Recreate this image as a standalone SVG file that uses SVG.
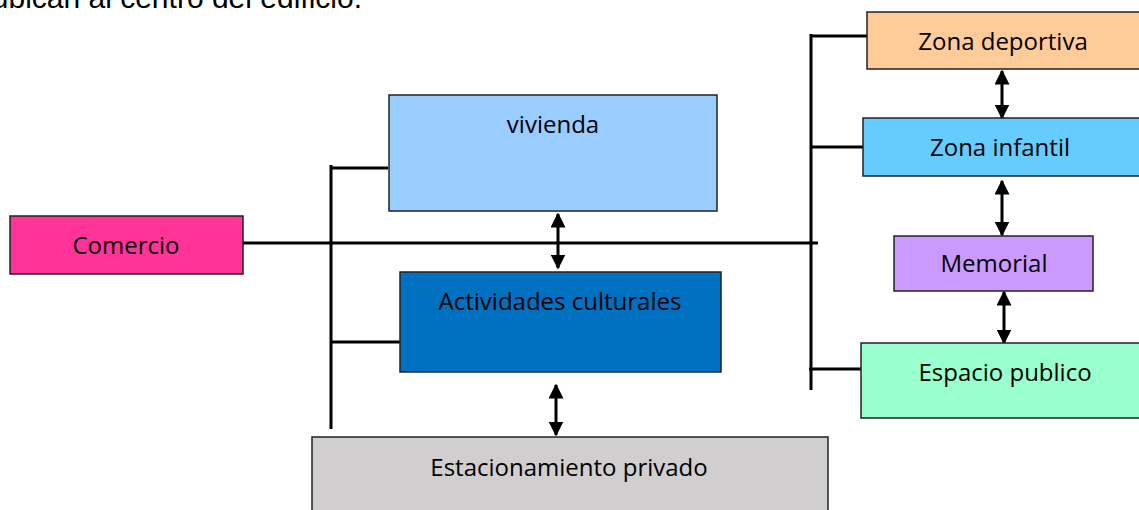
<svg xmlns="http://www.w3.org/2000/svg" width="1139" height="510" viewBox="0 0 1139 510">
<style>
.box{stroke:#222;stroke-width:1.5}
.lbl{font-family:"Open Sans","Noto Sans",sans-serif;font-size:24px;fill:#000;text-anchor:middle}
.ln{stroke:#000;stroke-width:3;fill:none}
</style>
<defs>
<marker id="ah" viewBox="0 0 10 10" refX="9" refY="5" markerWidth="5" markerHeight="5" orient="auto-start-reverse" markerUnits="strokeWidth">
<path d="M0,0 L10,5 L0,10 z" fill="#000"/>
</marker>
</defs>
<rect width="1139" height="510" fill="#fff"/>
<text x="362" y="8" font-family="Liberation Sans, Arial, sans-serif" font-size="30" text-anchor="end" fill="#000">ubican al centro del edificio.</text>
<g id="connectors">
<line class="ln" x1="243" y1="243" x2="818" y2="243"/>
<line class="ln" x1="331" y1="165" x2="331" y2="429"/>
<line class="ln" x1="331" y1="168" x2="388" y2="168"/>
<line class="ln" x1="331" y1="342" x2="400" y2="342"/>
<line class="ln" x1="811" y1="34" x2="811" y2="390"/>
<line class="ln" x1="811" y1="36" x2="867" y2="36"/>
<line class="ln" x1="811" y1="147" x2="868" y2="147"/>
<line class="ln" x1="809" y1="369" x2="862" y2="369"/>
<line class="ln" x1="558" y1="214" x2="558" y2="268" marker-start="url(#ah)" marker-end="url(#ah)"/>
<line class="ln" x1="556" y1="385" x2="556" y2="435" marker-start="url(#ah)" marker-end="url(#ah)"/>
<line class="ln" x1="1002" y1="71" x2="1002" y2="118" marker-start="url(#ah)" marker-end="url(#ah)"/>
<line class="ln" x1="1002" y1="181" x2="1002" y2="235" marker-start="url(#ah)" marker-end="url(#ah)"/>
<line class="ln" x1="1004" y1="292" x2="1004" y2="343" marker-start="url(#ah)" marker-end="url(#ah)"/>
</g>
<g id="comercio"><rect class="box" x="10" y="216" width="233" height="58" fill="#FF3399"/><text class="lbl" x="126" y="254">Comercio</text></g>
<g id="vivienda"><rect class="box" x="389" y="95" width="328" height="116" fill="#99CCFF"/><text class="lbl" x="553" y="133">vivienda</text></g>
<g id="actividades"><rect class="box" x="400" y="272" width="321" height="100" fill="#0070C0"/><text class="lbl" x="560" y="310">Actividades culturales</text></g>
<g id="estacionamiento"><rect class="box" x="312" y="437" width="516" height="80" fill="#D0CECE"/><text class="lbl" x="569" y="476">Estacionamiento privado</text></g>
<g id="zona-deportiva"><rect class="box" x="867" y="12" width="280" height="57" fill="#FFCC99"/><text class="lbl" x="1003" y="50">Zona deportiva</text></g>
<g id="zona-infantil"><rect class="box" x="863" y="118" width="284" height="58" fill="#66CCFF"/><text class="lbl" x="1000" y="156">Zona infantil</text></g>
<g id="memorial"><rect class="box" x="894" y="236" width="199" height="55" fill="#CC99FF"/><text class="lbl" x="994" y="272">Memorial</text></g>
<g id="espacio-publico"><rect class="box" x="861" y="343" width="286" height="75" fill="#99FFCC"/><text class="lbl" x="1005" y="381">Espacio publico</text></g>
</svg>
